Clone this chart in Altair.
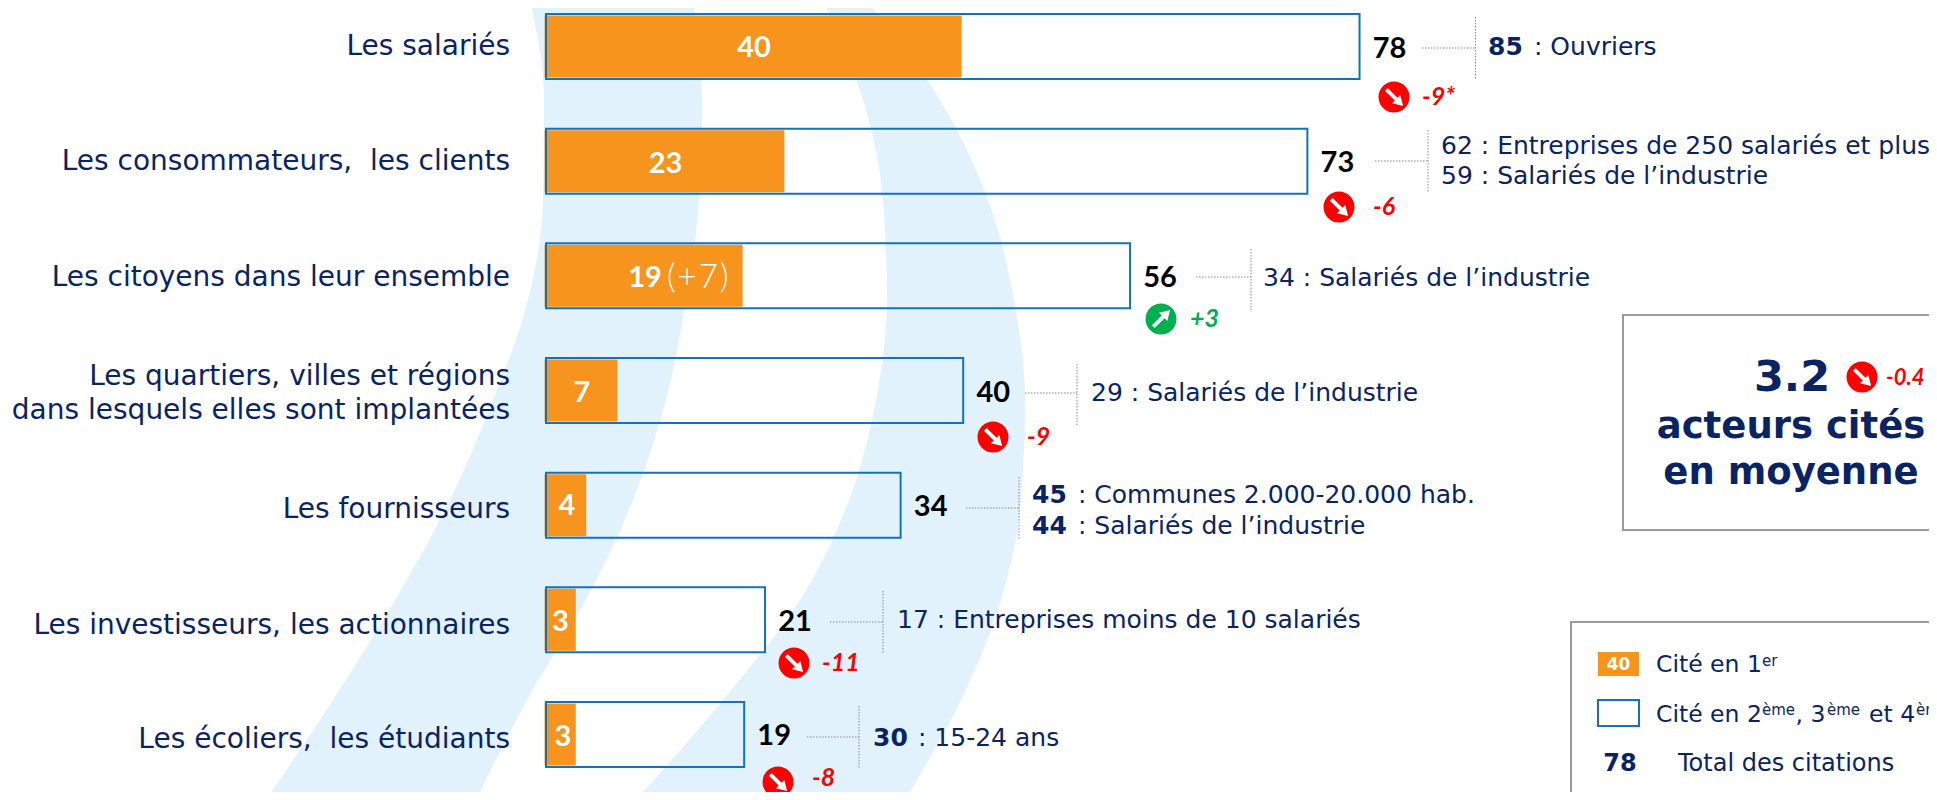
import altair as alt
import pandas as pd

# ---- chart values ----
categories = ["Les salariés", "Les consommateurs,\u00a0 les clients", "Les citoyens dans leur ensemble",
              "Les quartiers, villes et régions|dans lesquels elles sont implantées", "Les fournisseurs",
              "Les investisseurs, les actionnaires", "Les écoliers,\u00a0 les étudiants"]
first_cited = [40, 23, 19, 7, 4, 3, 3]
total_cited = [78, 73, 56, 40, 34, 21, 19]
deltas = ["-9*", "-6", "+3", "-9", None, "-11", "-8"]

# ---- layout (page pixels) ----
NAVY = "#0A2463"; ORANGE = "#F7941E"; BLUE = "#1173BB"; PALE = "#E1F2FD"; RED = "#FF0000"; GREEN = "#00B050"
W, H = 1921, 784
PX0, PXU = 538.0, 10.43
SANS = "DejaVu Sans"; NUM = "Lato"

x_scale = alt.Scale(domain=[-PX0 / PXU, (W - PX0) / PXU], range=[0, W], nice=False, zero=False)
y_scale = alt.Scale(domain=categories, range=[6, 759], paddingInner=0.433, paddingOuter=0)

swoosh_y = [0, 100, 200, 300, 400, 500, 600, 700, 800]
swoosh_a_l = [530, 544, 543, 528, 493, 450, 395, 333, 266]
swoosh_a_r = [693, 702, 699, 686, 666, 633, 586, 527, 476]
swoosh_b_l = [823, 863, 883, 887, 876, 849, 800, 723, 636]
swoosh_b_r = [866, 940, 988, 1014, 1025, 1021, 1001, 961, 905]

layers = []


def swoosh(left, right):
    df = pd.DataFrame({"y": [v - 8 for v in swoosh_y], "a": [v - 8 for v in left], "b": [v - 8 for v in right]})
    return alt.Chart(df).mark_area(color=PALE, orient="horizontal", interpolate="monotone").encode(
        y=alt.Y("y:Q", scale=None, axis=None),
        x=alt.X("a:Q", scale=None, axis=None, stack=False),
        x2="b:Q",
    )


def txt(t, x, y, size=25, color=NAVY, font=SANS, bold=False, italic=False, align="left", weight=None):
    kw = {}
    if italic:
        kw["fontStyle"] = "italic"
    return alt.Chart(pd.DataFrame({"t": [t]})).mark_text(
        font=font, fontSize=size, color=color, align=align, baseline="middle",
        fontWeight=weight if weight else ("bold" if bold else "normal"), **kw
    ).encode(x=alt.value(x - 8), y=alt.value(y - 8), text="t:N")


def rule(x1, y1, x2, y2):
    return alt.Chart(pd.DataFrame({"k": [0]})).mark_rule(color="#8A8A8A", strokeWidth=1, strokeDash=[1.5, 1.5]).encode(
        x=alt.value(x1 - 8), x2=alt.value(x2 - 8), y=alt.value(y1 - 8), y2=alt.value(y2 - 8))


def box(x1, y1, x2, y2, fill="white", stroke="#9A9A9A", sw=2):
    return alt.Chart(pd.DataFrame({"k": [0]})).mark_rect(fill=fill, stroke=stroke, strokeWidth=sw).encode(
        x=alt.value(x1 - 8), x2=alt.value(x2 - 8), y=alt.value(y1 - 8), y2=alt.value(y2 - 8))


ARROW = "M-0.72 -0.50 L-0.50 -0.72 L0.28 0.06 L0.50 -0.16 L0.72 0.72 L-0.16 0.50 L0.06 0.28 Z"


def badge(x, y, color=RED, angle=0):
    df = pd.DataFrame({"k": [0]})
    c = alt.Chart(df).mark_point(shape="circle", filled=True, color=color, opacity=1, size=960).encode(
        x=alt.value(x - 8), y=alt.value(y - 8))
    a = alt.Chart(df).mark_point(shape=ARROW, filled=True, color="white", opacity=1, size=640, angle=angle).encode(
        x=alt.value(x - 8), y=alt.value(y - 8))
    return [c, a]


layers += [swoosh(swoosh_a_l, swoosh_a_r), swoosh(swoosh_b_l, swoosh_b_r)]

bars = pd.DataFrame({"cat": categories, "first": first_cited, "total": total_cited})
layers.append(alt.Chart(bars).mark_bar(color=ORANGE, size=62, xOffset=-1.5).encode(
    x=alt.X("first:Q", scale=x_scale, axis=None),
    y=alt.Y("cat:N", scale=y_scale, axis=None, sort=categories)))
layers.append(alt.Chart(bars).mark_bar(fillOpacity=0, fill="white", stroke=BLUE, strokeWidth=2).encode(
    x=alt.X("total:Q", scale=x_scale, axis=None),
    y=alt.Y("cat:N", scale=y_scale, axis=None, sort=categories)))
layers.append(alt.Chart(bars).mark_text(font=NUM, fontSize=29, fontWeight="bold", color="black", dx=30, dy=2,
                                        baseline="middle", align="center").encode(
    x=alt.X("total:Q", scale=x_scale, axis=None),
    y=alt.Y("cat:N", scale=y_scale, axis=None, sort=categories),
    text="total:Q"))

# category labels
label_y = [47, 162, 278, None, 510, 626, 739.5]
for c, y in zip(categories, label_y):
    if y is None:
        a, b = c.split("|")
        layers += [txt(a, 510, 377, 28, align="right"), txt(b, 510, 411, 28, align="right")]
    else:
        layers.append(txt(c, 510, y, 28, align="right"))

# inner values
inner_x = [754, 665.5, 645, 582, 567, 560.5, 563]
inner_y = [48, 164, 278, 393, 506, 622, 737]
for v, x, y in zip(first_cited, inner_x, inner_y):
    layers.append(txt(str(v), x, y, 29, "white", NUM, bold=True, align="center"))
layers.append(txt("(\u200a+\u200a7\u200a)", 667, 278, 33, "#FFFFFF", NUM, weight=300))

# leaders
h_rules = [(1422, 1475, 48), (1375, 1428, 161), (1196, 1251, 277), (1025, 1077, 393), (966, 1019, 508), (830, 883, 622), (807, 859, 737)]
v_rules = [(1475.5, 17, 79), (1428, 130, 193), (1251, 249, 312), (1077, 364, 425), (1019, 477, 540), (883, 591, 653), (859, 706, 768)]
for a, b, y in h_rules:
    layers.append(rule(a, y, b, y))
for x, a, b in v_rules:
    layers.append(rule(x, a, x, b))

# notes
layers += [
    txt("85", 1488, 47, 25, bold=True), txt(": Ouvriers", 1534, 47, 25),
    txt("62 : Entreprises de 250 salariés et plus", 1441, 146, 25),
    txt("59 : Salariés de l’industrie", 1441, 176, 25),
    txt("34 : Salariés de l’industrie", 1263, 278, 25),
    txt("29 : Salariés de l’industrie", 1091, 393, 25),
    txt("45", 1032, 495, 25, bold=True), txt(": Communes 2.000-20.000 hab.", 1078, 495, 25),
    txt("44", 1032, 526, 25, bold=True), txt(": Salariés de l’industrie", 1078, 526, 25),
    txt("17 : Entreprises moins de 10 salariés", 897, 620, 25),
    txt("30", 873, 738, 25, bold=True), txt(": 15-24 ans", 918, 738, 25),
]

# deltas
badge_xy = [(1394, 97), (1339, 207), (1161, 319), (993, 437), None, (794, 663), (778, 782)]
delta_xy = [(1422, 97), (1373, 207), (1190, 319), (1027, 437), None, (822, 663), (812, 778)]
for d, bxy, dxy in zip(deltas, badge_xy, delta_xy):
    if d is None:
        continue
    up = d.startswith("+")
    layers += badge(bxy[0], bxy[1], GREEN if up else RED, 270 if up else 0)
    layers.append(txt(d, dxy[0], dxy[1], 25, GREEN if up else RED, NUM, bold=True, italic=True))

# average box
layers.append(box(1623, 315, 2100, 530))
layers += [txt("3.2", 1792, 378, 43, bold=True, align="center")]
layers += badge(1862, 377)
layers += [
    txt("-0.4", 1886, 378, 22, RED, NUM, bold=True, italic=True),
    txt("acteurs cités", 1791, 427, 37, bold=True, align="center"),
    txt("en moyenne", 1791, 473, 37, bold=True, align="center"),
]

# legend
layers.append(box(1571, 622, 2100, 900))
layers.append(box(1598, 652, 1639, 676, fill=ORANGE, stroke=ORANGE, sw=0))
layers.append(box(1598, 700, 1639, 726, fill="white", stroke=BLUE))
layers += [
    txt("40", 1618.5, 665, 17, "white", bold=True, align="center"),
    txt("Cité en 1", 1656, 665, 23.5), txt("er", 1762, 661, 15),
    txt("Cité en 2", 1656, 715, 23.5), txt("ème", 1762, 710, 15),
    txt(", 3", 1795.5, 715, 23.5), txt("ème", 1827, 710, 15),
    txt("et 4", 1869, 715, 23.5), txt("ème", 1916, 710, 15),
    txt("78", 1620, 764, 24, bold=True, align="center"),
    txt("Total des citations", 1678, 764, 24),
]

chart = alt.layer(*layers).properties(
    width=W, height=H, padding=0, autosize=alt.AutoSizeParams(type="none"), background="white"
).configure_view(stroke=None)

chart.save("out.html", embed_options={"renderer": "svg", "actions": False})
